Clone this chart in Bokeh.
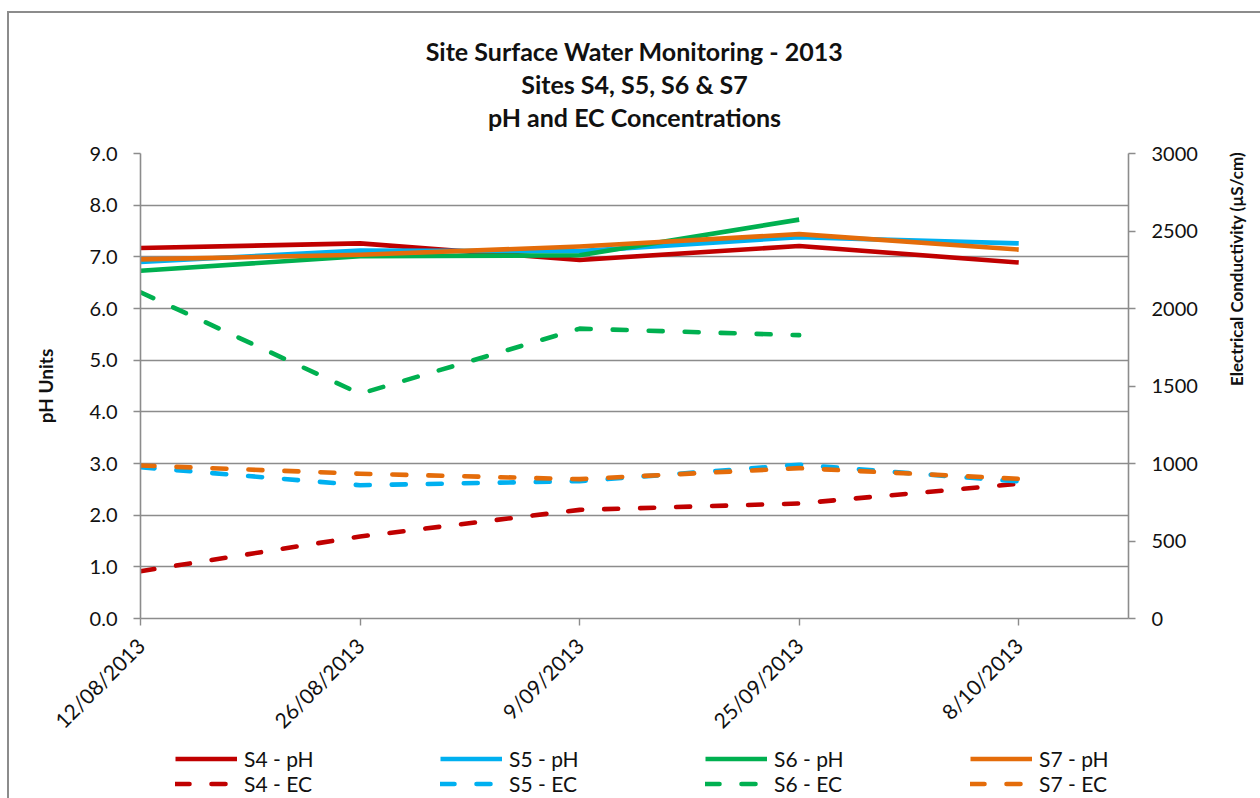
import math
from bokeh.plotting import figure
from bokeh.layouts import column
from bokeh.models import (Range1d, LinearAxis, FixedTicker, Legend, Title,
                          LegendItem, NumeralTickFormatter)
from bokeh.embed import file_html
from bokeh.resources import INLINE

# ---------------- data ----------------
dates = ["12/08/2013", "26/08/2013", "9/09/2013", "25/09/2013", "8/10/2013"]

s4_ph = [7.17, 7.26, 6.94, 7.21, 6.89]
s5_ph = [6.90, 7.12, 7.11, 7.38, 7.26]
s6_ph = [6.73, 7.01, 7.03, 7.72]          # no sample on 8/10
s7_ph = [6.95, 7.04, 7.20, 7.44, 7.14]

s4_ec = [305, 529, 701, 742, 869]
s5_ec = [976, 860, 886, 992, 884]
s6_ec = [2105, 1450, 1870, 1828]          # no sample on 8/10
s7_ec = [987, 934, 899, 970, 901]

series_names = ["S4", "S5", "S6", "S7"]
colors = ["#C00000", "#00B0F0", "#00B050", "#E46C0A"]

title_lines = ["Site Surface Water Monitoring - 2013",
               "Sites S4, S5, S6 & S7",
               "pH and EC Concentrations"]
left_title = "pH Units"
right_title = "Electrical Conductivity (\u00b5S/cm)"

ph_ticks = list(range(0, 10))
ec_ticks = list(range(0, 3001, 500))

# ---------------- styling constants ----------------
FONT = "Lato"
GREY = "#8c8c8c"
TXT = "#111111"
W = 1251
H_TOP = 125
H_MAIN = 608
H_LEG = 52
SOLID_W = 4.6
DASH = "14 22"

# ---------------- title strip ----------------
tp = figure(width=W, height=H_TOP, output_backend="svg", toolbar_location=None,
            title=None, x_range=Range1d(0, 1), y_range=Range1d(0, 1),
            x_axis_location=None, y_axis_location=None,
            min_border_left=0, min_border_right=0, min_border_top=119,
            min_border_bottom=0)
tp.grid.visible = False
tp.outline_line_color = None
tp.background_fill_color = "white"
tp.border_fill_color = "white"
for t in reversed(title_lines):
    tp.add_layout(Title(text=t, align="center", text_font=FONT,
                        text_font_style="bold", text_font_size="25px",
                        text_color=TXT, standoff=1), "above")

# ---------------- main figure ----------------
p = figure(width=W, height=H_MAIN, output_backend="svg", toolbar_location=None,
           title=None,
           x_range=Range1d(0, 4.5), y_range=Range1d(0, 9),
           min_border_left=131, min_border_right=132,
           min_border_top=15, min_border_bottom=128)
p.outline_line_color = None
p.background_fill_color = "white"
p.border_fill_color = "white"
p.extra_y_ranges = {"ec": Range1d(0, 3000)}

p.xgrid.visible = False
p.ygrid.ticker = FixedTicker(ticks=ph_ticks)
p.ygrid.grid_line_color = GREY
p.ygrid.grid_line_width = 1.4

def style_axis(ax, size="20px"):
    ax.axis_line_color = GREY
    ax.axis_line_width = 1.6
    ax.major_tick_line_color = GREY
    ax.major_tick_line_width = 1.4
    ax.major_tick_out = 7
    ax.major_tick_in = 0
    ax.minor_tick_line_color = None
    ax.major_label_text_font = FONT
    ax.major_label_text_font_size = size
    ax.major_label_text_color = TXT

def label_axis(ax, text, standoff, size="19px"):
    # axis that carries only the title text (no line, no ticks)
    ax.axis_line_color = None
    ax.major_tick_line_color = None
    ax.minor_tick_line_color = None
    ax.major_tick_out = 0
    ax.major_tick_in = 0
    ax.major_label_standoff = 0
    ax.axis_label = text
    ax.axis_label_standoff = standoff
    ax.axis_label_text_font = FONT
    ax.axis_label_text_font_size = size
    ax.axis_label_text_font_style = "bold"
    ax.axis_label_text_color = TXT

# left pH axis
yax = p.yaxis[0]
yax.ticker = FixedTicker(ticks=ph_ticks)
yax.formatter = NumeralTickFormatter(format="0.0")
style_axis(yax)
yax.major_label_standoff = 16

lab_l = LinearAxis(ticker=FixedTicker(ticks=[]))
label_axis(lab_l, left_title, 30)
p.add_layout(lab_l, "left")

# right EC axis
rax = LinearAxis(y_range_name="ec", ticker=FixedTicker(ticks=ec_ticks))
style_axis(rax)
rax.major_label_standoff = 16
p.add_layout(rax, "right")

lab_r = LinearAxis(y_range_name="ec", ticker=FixedTicker(ticks=[]))
label_axis(lab_r, right_title, 36, "17px")
if hasattr(lab_r, "axis_label_orientation"):
    lab_r.axis_label_orientation = math.pi / 2
p.add_layout(lab_r, "right")

# x axis with the sampling dates
xax = p.xaxis[0]
xax.ticker = FixedTicker(ticks=list(range(len(dates))))
xax.major_label_overrides = {i: d for i, d in enumerate(dates)}
xax.major_label_orientation = math.pi / 4
style_axis(xax, "21px")
xax.major_label_standoff = 16

ph_data = [s4_ph, s5_ph, s6_ph, s7_ph]
ec_data = [s4_ec, s5_ec, s6_ec, s7_ec]
for vals, c in zip(ph_data, colors):
    p.line(list(range(len(vals))), vals, line_color=c, line_width=SOLID_W,
           line_join="round")
for vals, c in zip(ec_data, colors):
    p.line(list(range(len(vals))), vals, line_color=c, line_width=SOLID_W,
           line_dash=DASH, line_cap="round", line_join="round", y_range_name="ec")

# ---------------- legend strip below the chart ----------------
q = figure(width=W, height=H_LEG, output_backend="svg", toolbar_location=None,
           title=None, x_range=Range1d(0, 4.5), y_range=Range1d(-2, -1),
           x_axis_location=None, y_axis_location=None,
           min_border_left=0, min_border_right=0, min_border_top=0,
           min_border_bottom=0)
q.grid.visible = False
q.outline_line_color = None
q.background_fill_color = "white"
q.border_fill_color = "white"

# same series again (outside this strip's visible range) so the legend keys
# take their colours and dash styles from real line renderers
ph_keys = [q.line(list(range(len(v))), v, line_color=c, line_width=SOLID_W)
           for v, c in zip(ph_data, colors)]
ec_keys = [q.line(list(range(len(v))), v, line_color=c, line_width=SOLID_W,
                  line_dash=DASH, line_cap="round")
           for v, c in zip(ec_data, colors)]
items = [LegendItem(label=f"{n} - pH", renderers=[r]) for n, r in zip(series_names, ph_keys)]
items += [LegendItem(label=f"{n} - EC", renderers=[r]) for n, r in zip(series_names, ec_keys)]
legend = Legend(items=items, orientation="horizontal", ncols=4,
                location=(35, 2),
                glyph_width=62, glyph_height=19, label_height=19, label_width=196,
                label_standoff=7, spacing=0, padding=0, margin=0,
                border_line_color=None, background_fill_alpha=0,
                label_text_font=FONT, label_text_font_size="21px",
                label_text_color=TXT)
q.add_layout(legend)

layout = column(tp, p, q, spacing=0,
                styles={"border-left": "2px solid #8c8c8c",
                        "border-top": "2px solid #8c8c8c",
                        "margin-left": "7px", "margin-top": "11px"})

open("out.html", "w").write(file_html(layout, INLINE))
